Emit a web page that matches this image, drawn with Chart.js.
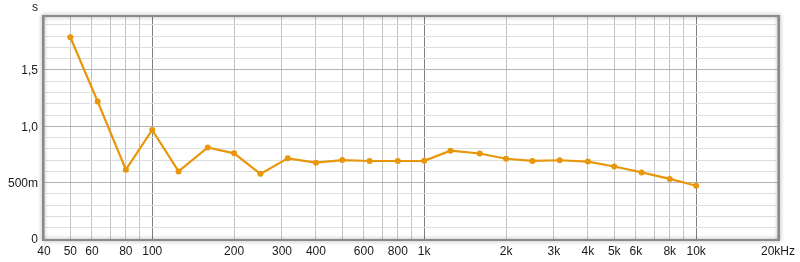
<!DOCTYPE html>
<html>
<head>
<meta charset="utf-8">
<script src="https://cdn.jsdelivr.net/npm/chart.js@4/dist/chart.umd.min.js"></script>
<style>
  html, body { margin: 0; padding: 0; background: #fff; }
  #wrap { width: 800px; height: 262px; }
</style>
</head>
<body>
<div id="wrap"><canvas id="myChart" width="800" height="262"></canvas></div>
<script>
// third-octave bands and reverberation time (s)
const freqs = [50, 63, 80, 100, 125, 160, 200, 250, 315, 400, 500, 630, 800, 1000,
	1250, 1600, 2000, 2500, 3150, 4000, 5000, 6300, 8000, 10000]
const rt = [1.79, 1.22, 0.615, 0.968, 0.600, 0.812, 0.760, 0.578, 0.716, 0.677, 0.700, 0.692, 0.692, 0.694,
	0.784, 0.759, 0.712, 0.693, 0.699, 0.687, 0.643, 0.591, 0.533, 0.473]

const xGrid = [40, 50, 60, 70, 80, 90, 100, 200, 300, 400, 500, 600, 700, 800, 900,
	1000, 2000, 3000, 4000, 5000, 6000, 7000, 8000, 9000, 10000, 20000]
const xLabels = { 40: '40', 50: '50', 60: '60', 80: '80', 100: '100', 200: '200', 300: '300',
	400: '400', 600: '600', 800: '800', 1000: '1k', 2000: '2k', 3000: '3k', 4000: '4k',
	5000: '5k', 6000: '6k', 8000: '8k', 10000: '10k', 20000: '20kHz' }
const xMajor = [100, 1000, 10000]

const yGrid = [0, 0.1, 0.2, 0.3, 0.4, 0.5, 0.6, 0.7, 0.8, 0.9, 1.0, 1.1, 1.2, 1.3, 1.4, 1.5, 1.6, 1.7, 1.8, 1.9]
const yLabels = { 0: '0', 5: '500m', 10: '1,0', 15: '1,5' }

Chart.defaults.font.family = "'Liberation Sans', Arial, sans-serif"
Chart.defaults.font.size = 12
Chart.defaults.color = '#1a1a1a'

const framePlugin = {
	id: 'frame',
	afterDraw(chart) {
		const { ctx, chartArea: a } = chart
		ctx.save()
		ctx.shadowColor = 'rgba(0,0,0,0.4)'
		ctx.shadowBlur = 4
		ctx.strokeStyle = '#8a8a8a'
		ctx.lineWidth = 2
		ctx.strokeRect(a.left - 1, a.top - 1, a.right - a.left + 2, a.bottom - a.top + 2)
		ctx.restore()
		ctx.save()
		ctx.fillStyle = '#1a1a1a'
		ctx.font = "12px 'Liberation Sans', Arial, sans-serif"
		ctx.textAlign = 'center'
		ctx.textBaseline = 'middle'
		ctx.fillText('s', 35, 8)
		ctx.restore()
	},
}

const chartConfig = {
	type: 'line',
	data: {
		datasets: [
			{
				data: freqs.map((f, i) => ({ x: f, y: rt[i] })),
				borderColor: '#e8970c',
				backgroundColor: '#e8970c',
				borderWidth: 2.2,
				pointRadius: 3,
				pointBorderWidth: 0,
				tension: 0,
			},
		],
	},
	options: {
		responsive: false,
		animation: false,
		layout: { padding: { top: 17, right: 22, left: 0, bottom: 0 } },
		plugins: { legend: { display: false }, tooltip: { enabled: false } },
		scales: {
			x: {
				type: 'logarithmic',
				min: 40,
				max: 20000,
				afterBuildTicks: (s) => { s.ticks = xGrid.map((v) => ({ value: v })) },
				afterFit: (s) => { s.height = 23 },
				border: { display: false },
				grid: {
					drawTicks: false,
					color: (c) => (c.tick && xMajor.includes(c.tick.value) ? '#808080' : '#c4c4c4'),
				},
				ticks: {
					autoSkip: false,
					maxRotation: 0,
					padding: 5,
					callback: (v) => xLabels[v] || '',
				},
			},
			y: {
				min: 0,
				max: 1.97,
				afterBuildTicks: (s) => { s.ticks = yGrid.map((v) => ({ value: v })) },
				afterFit: (s) => { s.width = 44 },
				border: { display: false },
				grid: {
					drawTicks: false,
					color: (c) => (c.tick && Math.round(c.tick.value * 10) % 5 === 0 ? '#b4b4b4' : '#dedede'),
				},
				ticks: {
					autoSkip: false,
					padding: 6,
					labelOffset: 1,
					callback: (v) => yLabels[Math.round(v * 10)] || '',
				},
			},
		},
	},
	plugins: [framePlugin],
}

const ctx = document.getElementById('myChart').getContext('2d')
new Chart(ctx, chartConfig)
</script>
</body>
</html>
